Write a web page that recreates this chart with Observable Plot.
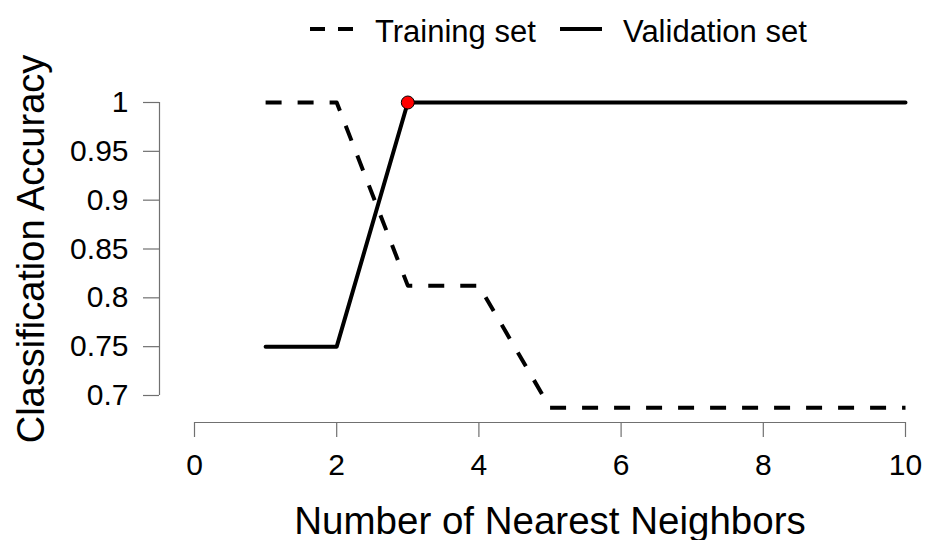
<!DOCTYPE html>
<html>
<head>
<meta charset="utf-8">
<script src="https://cdn.jsdelivr.net/npm/d3@7"></script>
<script src="https://cdn.jsdelivr.net/npm/@observablehq/plot@0.6"></script>
<style>
  html, body { margin: 0; padding: 0; background: #fff; }
  body { font-family: "Liberation Sans", Arial, sans-serif; width: 925px; }
  #legend { position: relative; height: 50px; width: 925px; }
  #legend .lbl { position: absolute; top: 16px; font-size: 31px; line-height: 31px; color: #000; white-space: nowrap; }
  #legend svg { position: absolute; top: 0; }
</style>
</head>
<body>
<div id="legend">
  <svg style="left:310px" width="44" height="50"><line x1="0" x2="43" y1="29" y2="29" stroke="#000" stroke-width="4" stroke-dasharray="15,13"/></svg>
  <div class="lbl" style="left:375px">Training set</div>
  <svg style="left:560px" width="44" height="50"><line x1="0" x2="42" y1="29" y2="29" stroke="#000" stroke-width="4"/></svg>
  <div class="lbl" style="left:623px">Validation set</div>
</div>
<div id="chart"></div>
<script>
const neighbors = [1, 2, 3, 4, 5, 6, 7, 8, 9, 10];
const trainingAccuracy = [1, 1, 0.8125, 0.8125, 0.6875, 0.6875, 0.6875, 0.6875, 0.6875, 0.6875];
const validationAccuracy = [0.75, 0.75, 1, 1, 1, 1, 1, 1, 1, 1];
const bestK = [3];
const bestAccuracy = [1];
const xTicks = [0, 2, 4, 6, 8, 10];
const yTicks = [0.7, 0.75, 0.8, 0.85, 0.9, 0.95, 1];
const xTitle = "Number of Nearest Neighbors";
const yTitle = "Classification Accuracy";

const training = neighbors.map((k, i) => ({k, acc: trainingAccuracy[i]}));
const validation = neighbors.map((k, i) => ({k, acc: validationAccuracy[i]}));
const best = bestK.map((k, i) => ({k, acc: bestAccuracy[i]}));

const axisGray = "#707070";

const chart = Plot.plot({
  width: 925,
  height: 490,
  marginLeft: 194,
  marginRight: 20,
  marginTop: 52,
  marginBottom: 145,
  style: {fontFamily: "'Liberation Sans', Arial, sans-serif", fontSize: "30px", color: "#000", background: "#fff"},
  x: {domain: [0, 10]},
  y: {domain: [0.7, 1]},
  marks: [
    Plot.ruleY([0.7], {x1: 0, x2: 10, dy: 27, stroke: axisGray, strokeWidth: 1.2}),
    Plot.axisX(xTicks, {anchor: "bottom", dy: 27, tickSize: 15, tickPadding: 16, stroke: axisGray, strokeWidth: 1.2, fill: "#000", fontSize: 30, tickFormat: d => String(d), label: null}),
    Plot.ruleX([0], {y1: 0.7, y2: 1, dx: -35, stroke: axisGray, strokeWidth: 1.2}),
    Plot.axisY(yTicks, {anchor: "left", dx: -35, tickSize: 16, tickPadding: 15, stroke: axisGray, strokeWidth: 1.2, fill: "#000", fontSize: 30, tickFormat: d => String(d), label: null}),
    Plot.line(training, {x: "k", y: "acc", stroke: "#000", strokeWidth: 4, strokeDasharray: "16,16", strokeLinecap: "butt"}),
    Plot.line(validation, {x: "k", y: "acc", stroke: "#000", strokeWidth: 4}),
    Plot.dot(best, {x: "k", y: "acc", r: 6.5, fill: "#ff0000", stroke: "#000", strokeWidth: 1}),
    Plot.text([xTitle], {text: d => d, frameAnchor: "bottom", textAnchor: "middle", dy: 138, lineAnchor: "bottom", fontSize: 38.5, fill: "#000"}),
    Plot.text([yTitle], {text: d => d, frameAnchor: "left", textAnchor: "middle", dx: -151, rotate: -90, lineAnchor: "bottom", fontSize: 38, fill: "#000"})
  ]
});
document.getElementById("chart").appendChild(chart);
</script>
</body>
</html>
